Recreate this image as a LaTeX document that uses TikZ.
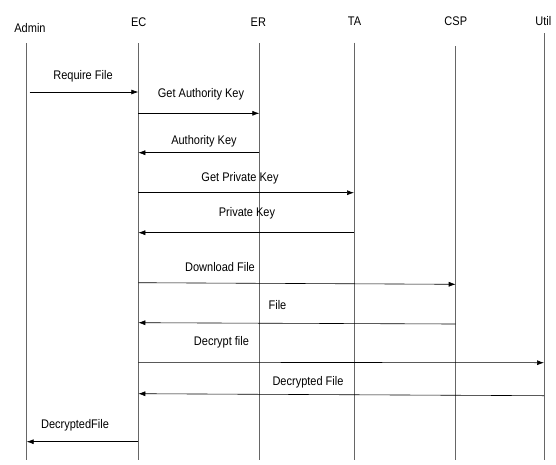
\documentclass[tikz,border=0pt]{standalone}
\usepackage{fontspec}
\setmainfont{Liberation Sans}[FakeStretch=0.88]
\usetikzlibrary{arrows.meta}

\begin{document}
\begin{tikzpicture}[x=1pt, y=-1pt, font=\fontsize{12.5}{14}\selectfont,
    lifeline/.style={draw=black!60, line width=0.8pt},
    msg/.style={draw=black, line width=0.6pt, -{Latex[length=7pt,width=5pt]}},
    lbl/.style={inner sep=0pt}]
    \useasboundingbox (0,0) rectangle (556,464);

    % participants
    \node[lbl] (admin) at (30,28.5) {Admin};
    \node[lbl] (ec) at (138.7,22) {EC};
    \node[lbl] (er) at (258.3,22) {ER};
    \node[lbl] (ta) at (354.5,21) {TA};
    \node[lbl] (csp) at (455.8,21) {CSP};
    \node[lbl] (util) at (543.3,21) {Util};

    % lifelines
    \coordinate (adminTop) at (26.7,43.3);  \coordinate (adminBot) at (26.7,460);
    \coordinate (ecTop) at (138.3,43.3);    \coordinate (ecBot) at (138.3,460);
    \coordinate (erTop) at (259.3,43.3);    \coordinate (erBot) at (259.3,460);
    \coordinate (taTop) at (354,42.7);      \coordinate (taBot) at (354,460);
    \coordinate (cspTop) at (455.7,46);     \coordinate (cspBot) at (455.7,460);
    \coordinate (utilTop) at (544,33.3);    \coordinate (utilBot) at (544,460);
    \draw[lifeline] (adminTop) -- (adminBot);
    \draw[lifeline] (ecTop) -- (ecBot);
    \draw[lifeline] (erTop) -- (erBot);
    \draw[lifeline] (taTop) -- (taBot);
    \draw[lifeline] (cspTop) -- (cspBot);
    \draw[lifeline] (utilTop) -- (utilBot);

    % messages
    \draw[msg] ([xshift=3pt]adminTop |- 0,92) -- (ecTop |- 0,92);
    \node[lbl] (requireFile) at (83,76) {Require File};

    \draw[msg] (ecTop |- 0,113.3) -- (erTop |- 0,113.3);
    \node[lbl] (getAuthKey) at (201,94) {Get Authority Key};

    \draw[msg] (erTop |- 0,152.7) -- (ecTop |- 0,152.7);
    \node[lbl] (authKey) at (204,141.5) {Authority Key};

    \draw[msg] (ecTop |- 0,192.7) -- (taTop |- 0,192.7);
    \node[lbl] (getPrivKey) at (240,178) {Get Private Key};

    \draw[msg] (taTop |- 0,232.7) -- (ecTop |- 0,232.7);
    \node[lbl] (privKey) at (247,213) {Private Key};

    \draw[msg] (ecTop |- 0,282.7) -- (cspTop |- 0,284.3);
    \node[lbl] (download) at (220,267) {Download File};

    \draw[msg] (cspTop |- 0,324) -- (ecTop |- 0,322.7);
    \node[lbl] (file) at (277.5,305.5) {File};

    \draw[msg] (ecTop |- 0,362.3) -- (utilTop |- 0,362.7);
    \node[lbl] (decrypt) at (221.5,342.5) {Decrypt file};

    \draw[msg] (utilTop |- 0,395.7) -- (ecTop |- 0,393.7);
    \node[lbl] (decrypted) at (308,382) {Decrypted File};

    \draw[msg] (ecTop |- 0,441.7) -- (adminTop |- 0,441.7);
    \node[lbl] (decryptedFile) at (75,425) {DecryptedFile};
\end{tikzpicture}
\end{document}
